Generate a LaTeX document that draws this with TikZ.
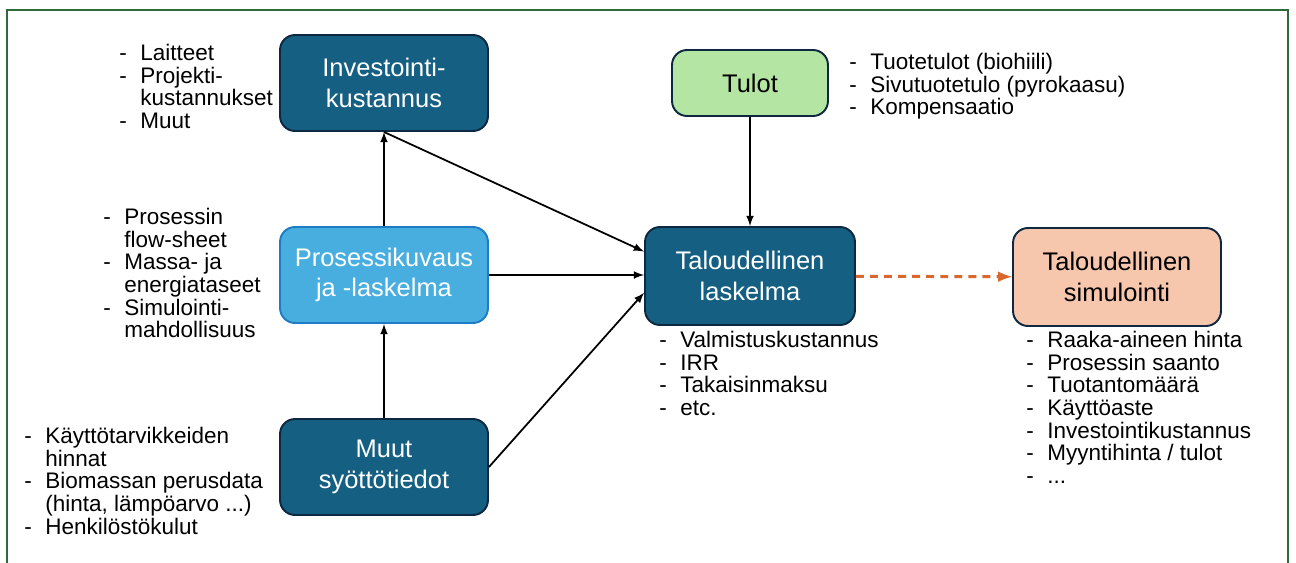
\documentclass[tikz,border=0pt]{standalone}
\usepackage{fontspec}
\setmainfont{Liberation Sans}
\usetikzlibrary{arrows}

\definecolor{boxblue}{HTML}{156082}
\definecolor{boxline}{HTML}{0E2841}
\definecolor{lightblue}{HTML}{47AEDF}
\definecolor{lightline}{HTML}{1F7CC4}
\definecolor{tulotgreen}{HTML}{B4E5A2}
\definecolor{simpeach}{HTML}{F6C6AD}
\definecolor{dashorange}{HTML}{D8682C}
\definecolor{framegreen}{HTML}{2E6B3C}

\tikzstyle{box} = [rectangle,rounded corners=0.3cm,line width=1.1pt,draw=boxline,align=center,minimum width=4.16cm,minimum height=1.92cm,font=\fontsize{14.5}{17.5}\selectfont]
\tikzstyle{darkbox} = [box,fill=boxblue,text=white]
\tikzstyle{itemlist} = [anchor=north west,inner sep=0pt,align=left,font=\fontsize{12.8}{12.9}\selectfont]
\tikzstyle{flow} = [->,>=latex,line width=1pt]

\newcommand{\dashitem}[1]{\makebox[0.42cm][l]{-}#1}
\newcommand{\contline}[1]{\hspace*{0.42cm}#1}

\begin{document}
\begin{tikzpicture}[x=0.02cm,y=-0.02cm]
		\useasboundingbox (0,0) rectangle (1296,562);
		\draw[framegreen,line width=1.2pt] (7,580) -- (7,10) -- (1288,10) -- (1288,580);

		\node[darkbox] (inv) at (384,83) {Investointi-\\kustannus};
		\node[box,fill=lightblue,draw=lightline,text=white] (pros) at (384,275) {Prosessikuvaus\\ja -laskelma};
		\node[darkbox] (muut) at (384,467) {Muut\\syöttötiedot};
		\node[box,fill=tulotgreen,minimum width=3.12cm,minimum height=1.32cm] (tulot) at (750,83) {Tulot};
		\node[darkbox,minimum width=4.2cm,minimum height=1.96cm] (talous) at (750,276) {Taloudellinen\\laskelma};
		\node[box,fill=simpeach,minimum height=1.96cm] (sim) at (1117,277) {Taloudellinen\\simulointi};

		\node[itemlist] (invlist) at (119,44) {\dashitem{Laitteet}\\\dashitem{Projekti-}\\\contline{kustannukset}\\\dashitem{Muut}};
		\node[itemlist] (proslist) at (103,208) {\dashitem{Prosessin}\\\contline{flow-sheet}\\\dashitem{Massa- ja}\\\contline{energiataseet}\\\dashitem{Simulointi-}\\\contline{mahdollisuus}};
		\node[itemlist] (muutlist) at (24,427) {\dashitem{Käyttötarvikkeiden}\\\contline{hinnat}\\\dashitem{Biomassan perusdata}\\\contline{(hinta, lämpöarvo ...)}\\\dashitem{Henkilöstökulut}};
		\node[itemlist] (tulotlist) at (849,53) {\dashitem{Tuotetulot (biohiili)}\\\dashitem{Sivutuotetulo (pyrokaasu)}\\\dashitem{Kompensaatio}};
		\node[itemlist] (talouslist) at (659,331) {\dashitem{Valmistuskustannus}\\\dashitem{IRR}\\\dashitem{Takaisinmaksu}\\\dashitem{etc.}};
		\node[itemlist] (simlist) at (1026,331) {\dashitem{Raaka-aineen hinta}\\\dashitem{Prosessin saanto}\\\dashitem{Tuotantomäärä}\\\dashitem{Käyttöaste}\\\dashitem{Investointikustannus}\\\dashitem{Myyntihinta / tulot}\\\dashitem{...}};

		\draw[flow] (pros) -- (inv);
		\draw[flow] (muut) -- (pros);
		\draw[flow] (inv.south) -- (talous.167.6);
		\draw[flow] (pros.east) -- (pros.east -| talous.west);
		\draw[flow] (muut.east) -- (talous.189);
		\draw[flow] (tulot) -- (talous);
		\draw[->,>=latex,dashorange,line width=1.7pt,dash pattern=on 4.5pt off 3.5pt] (talous) -- (sim);
\end{tikzpicture}
\end{document}
